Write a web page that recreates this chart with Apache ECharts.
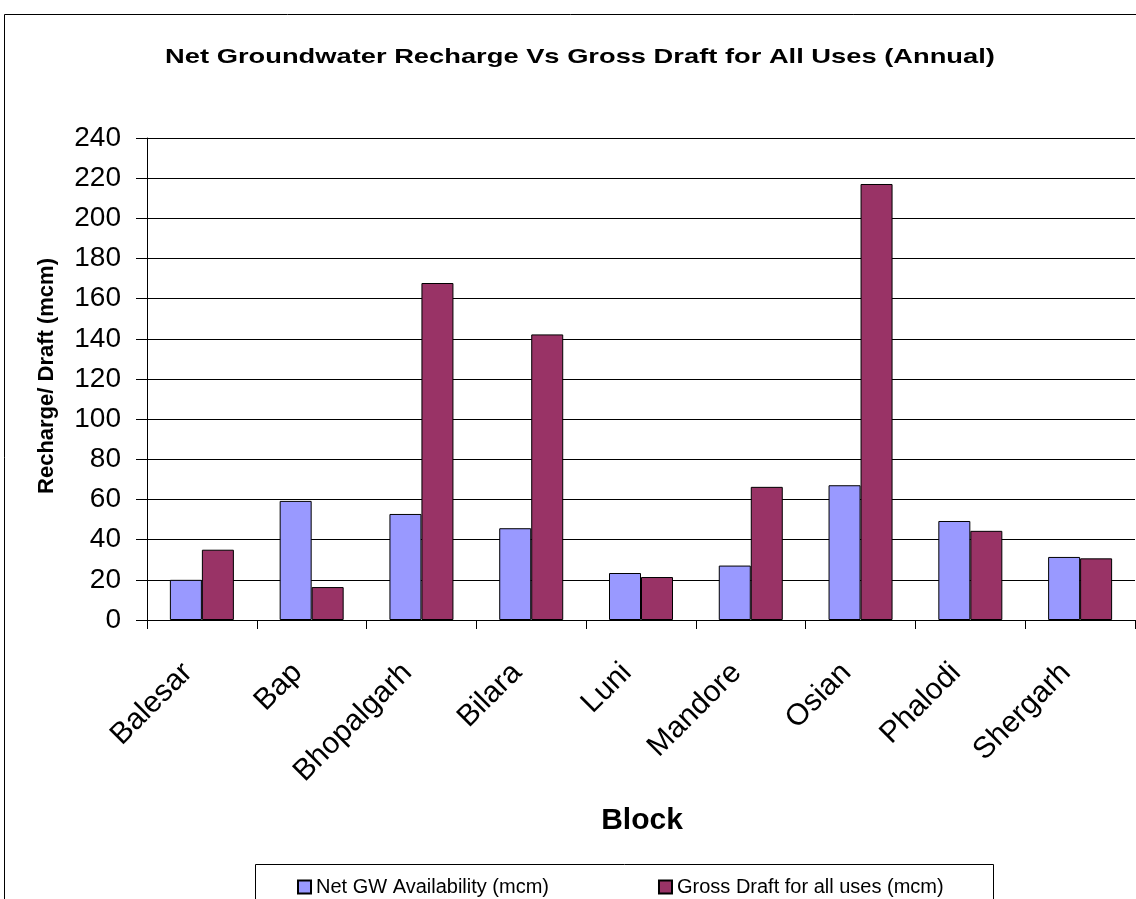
<!DOCTYPE html>
<html><head><meta charset="utf-8">
<script src="https://cdn.jsdelivr.net/npm/echarts@6/dist/echarts.min.js"></script>
<style>html,body{margin:0;padding:0;background:#fff}#c{width:1136px;height:899px}</style>
</head><body><div id="c"></div>
<script>
const categories = ['Balesar','Bap','Bhopalgarh','Bilara','Luni','Mandore','Osian','Phalodi','Shergarh'];
const netGW = [20, 59.3, 52.8, 45.7, 23.4, 27.1, 67.1, 49.3, 31.4];
const grossDraft = [35, 16.4, 167.8, 142.2, 21.4, 66.3, 217.1, 44.4, 30.7];
const seriesNames = ['Net GW Availability (mcm)', 'Gross Draft for all uses (mcm)'];
const titleText = 'Net Groundwater Recharge Vs Gross Draft for All Uses (Annual)';
const xName = 'Block';
const yName = 'Recharge/ Draft (mcm)';
const FONT = 'Liberation Sans, Arial, sans-serif';

const chart = echarts.init(document.getElementById('c'));
chart.setOption({
  animation: false,
  backgroundColor: '#fff',
  graphic: [
    {type:'rect', shape:{x:4.5,y:14.5,width:1200,height:1000}, style:{fill:'none',stroke:'#000',lineWidth:1}, z:-1},
    {type:'rect', shape:{x:255.5,y:864.5,width:738,height:100}, style:{fill:'#fff',stroke:'#000',lineWidth:1}, z:0},
    {type:'text', x:580, y:57, scaleX:1.3, style:{text:titleText, x:0, y:0, textAlign:'center', textVerticalAlign:'middle', font:'bold 21px ' + FONT, fill:'#000'}},
    {type:'text', x:642, y:821, style:{text:xName, x:0, y:0, textAlign:'center', textVerticalAlign:'middle', font:'bold 30px ' + FONT, fill:'#000'}}
  ],
  legend: {
    left: 292, top: 872, itemWidth: 13, itemHeight: 13, itemGap: 109, icon: 'rect',
    textStyle: {fontFamily: FONT, fontSize: 20, color: '#000'},
    data: seriesNames
  },
  grid: {left: 147, right: 1, top: 138, bottom: 279, containLabel: false},
  xAxis: {
    type: 'category', data: categories,
    axisLine: {lineStyle: {color: '#000', width: 1}},
    axisTick: {show: true, alignWithLabel: false, length: 9, inside: false, lineStyle:{color:'#000'}},
    axisLabel: {rotate: 45, fontFamily: FONT, fontSize: 30, color: '#000', margin: 34, padding: [0, 20, 0, 0], interval: 0},
    splitLine: {show: false}
  },
  yAxis: {
    type: 'value', min: 0, max: 240, interval: 20,
    name: yName, nameLocation: 'middle', nameGap: 89,
    nameTextStyle: {fontFamily: FONT, fontSize: 22, fontWeight: 'bold', color: '#000', padding: [0, 0, 0, 6]},
    axisLine: {show: true, lineStyle: {color: '#000', width: 1}},
    axisTick: {show: true, length: 11, lineStyle:{color:'#000'}},
    axisLabel: {fontFamily: FONT, fontSize: 28, color: '#000', margin: 26},
    splitLine: {show: true, lineStyle: {color: '#000', width: 1}}
  },
  series: [
    {name: seriesNames[0], type: 'bar', data: netGW, barWidth: 32, barGap: '0%',
     itemStyle: {color: '#9999FF', borderColor: '#000', borderWidth: 1}},
    {name: seriesNames[1], type: 'bar', data: grossDraft, barWidth: 32, barGap: '0%',
     itemStyle: {color: '#993366', borderColor: '#000', borderWidth: 1}}
  ]
});
</script></body></html>
